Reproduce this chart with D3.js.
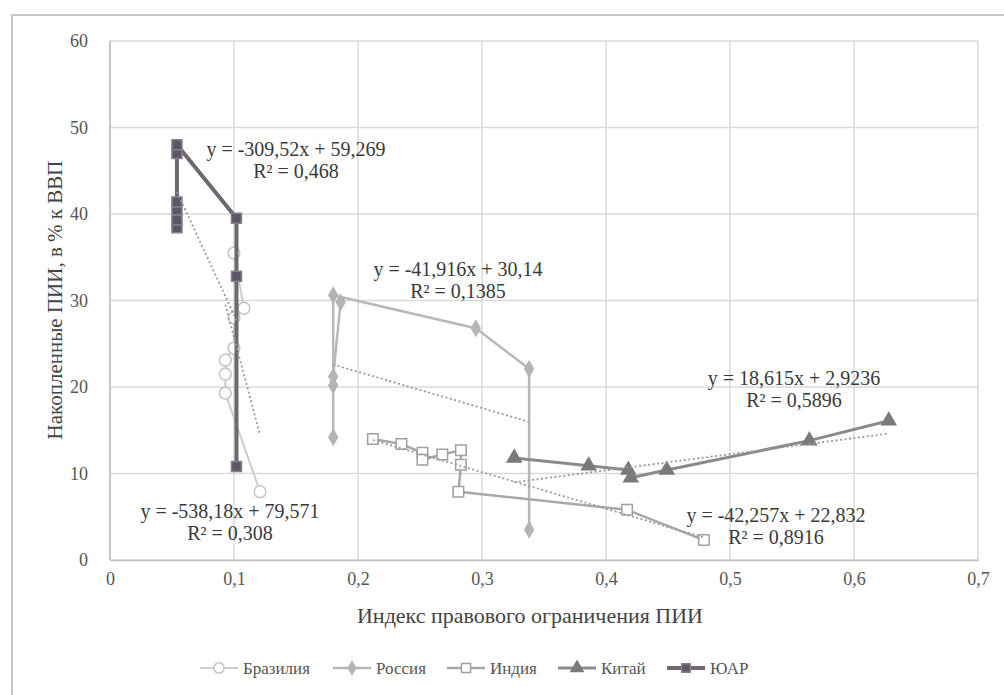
<!DOCTYPE html>
<html><head><meta charset="utf-8">
<script src="https://cdn.jsdelivr.net/npm/d3@7"></script>
<style>body{margin:0;background:#fff}svg{display:block}</style>
</head><body><svg id="c" width="1004" height="695"></svg>
<script>
// ---- data ----
const seriesNames = ["Бразилия","Россия","Индия","Китай","ЮАР"];
const brazilX = [0.100,0.108,0.100,0.100,0.093,0.093,0.093,0.121];
const brazilY = [35.5,29.1,28.0,24.5,23.1,21.5,19.3,7.9];
const russiaX = [0.186,0.180,0.180,0.180,0.180,0.295,0.338,0.338];
const russiaY = [29.8,21.2,20.2,14.2,30.6,26.8,22.1,3.5];
const indiaX = [0.212,0.235,0.252,0.252,0.268,0.283,0.283,0.281,0.417,0.479];
const indiaY = [14.0,13.4,12.4,11.6,12.2,12.7,11.0,7.9,5.8,2.3];
const chinaX = [0.326,0.386,0.418,0.420,0.449,0.564,0.628];
const chinaY = [11.8,10.9,10.4,9.5,10.4,13.8,16.1];
const zafX = [0.054,0.054,0.054,0.054,0.054,0.054,0.102,0.102,0.102];
const zafY = [38.4,39.3,40.5,41.4,47.0,48.0,39.5,32.8,10.8];
const trendSlope = [-538.18,-41.916,-42.257,18.615,-309.52];
const trendIntercept = [79.571,30.14,22.832,2.9236,59.269];
const trendEq = ["y = -538,18x + 79,571","y = -41,916x + 30,14","y = -42,257x + 22,832","y = 18,615x + 2,9236","y = -309,52x + 59,269"];
const trendR2 = ["R² = 0,308","R² = 0,1385","R² = 0,8916","R² = 0,5896","R² = 0,468"];
const xTicks = [0,0.1,0.2,0.3,0.4,0.5,0.6,0.7];
const yTicks = [0,10,20,30,40,50,60];
const xTitle = "Индекс правового ограничения ПИИ";
const yTitle = "Накопленные ПИИ, в % к ВВП";

// ---- styles / layout ----
const styles = [
  {line:"#cdcdcd", w:2,   marker:"circle",  fill:"#fff",    stroke:"#c4c4c4", size:110},
  {line:"#b8b8b8", w:2.5, marker:"diamond", fill:"#b4b4b4", stroke:"#b4b4b4", size:65},
  {line:"#a8a8a8", w:2.5, marker:"square",  fill:"#fff",    stroke:"#a0a0a0", size:110},
  {line:"#8a8a8a", w:3,   marker:"triangle",fill:"#7a7a7a", stroke:"#7a7a7a", size:85},
  {line:"#6e6873", w:4,   marker:"square",  fill:"#5e5668", stroke:"#85808a", size:100}
];
const labelPos = [[230,518],[458,276],[776,522],[794,385],[296,156]];
const legendX = [200,333,447,558,667];

const svg = d3.select("#c");
const font = "Liberation Serif, DejaVu Serif, Times New Roman, serif";
const x = d3.scaleLinear().domain([0,0.7]).range([110,978]);
const y = d3.scaleLinear().domain([0,60]).range([560,41]);

// outer border
svg.append("rect").attr("x",12).attr("y",15).attr("width",1000).attr("height",700)
  .attr("fill","none").attr("stroke","#c9c9c9").attr("stroke-width",2);

// grid
svg.append("g").selectAll("line").data(yTicks).join("line")
  .attr("x1",x(0)).attr("x2",x(0.7)).attr("y1",d=>y(d)).attr("y2",d=>y(d))
  .attr("stroke","#dadada").attr("stroke-width",1.5);
svg.append("g").selectAll("line").data(xTicks).join("line")
  .attr("y1",y(0)).attr("y2",y(60)).attr("x1",d=>x(d)).attr("x2",d=>x(d))
  .attr("stroke","#dadada").attr("stroke-width",1.5);

// axes
const xa = svg.append("g").attr("transform",`translate(0,${y(0)})`)
  .call(d3.axisBottom(x).tickValues(xTicks).tickSize(0).tickPadding(12)
    .tickFormat(d=>d===0?"0":String(d).replace(".",",")));
const ya = svg.append("g").attr("transform",`translate(${x(0)},0)`)
  .call(d3.axisLeft(y).tickValues(yTicks).tickSize(0).tickPadding(22));
[xa,ya].forEach(a=>{
  a.select(".domain").attr("stroke","#bdbdbd").attr("stroke-width",1.5);
  a.selectAll("text").attr("font-family",font).attr("font-size",18).attr("fill","#555");
});
ya.select(".domain").remove();
svg.append("line").attr("x1",x(0)).attr("x2",x(0)).attr("y1",y(0)).attr("y2",y(60))
  .attr("stroke","#bdbdbd").attr("stroke-width",1.5);

// titles
svg.append("text").attr("x",530).attr("y",623).attr("text-anchor","middle")
  .attr("font-family",font).attr("font-size",22).attr("fill","#444").text(xTitle);
svg.append("text").attr("transform","translate(62,300) rotate(-90)").attr("text-anchor","middle")
  .attr("font-family",font).attr("font-size",21).attr("fill","#444").text(yTitle);

const allX = [brazilX,russiaX,indiaX,chinaX,zafX];
const allY = [brazilY,russiaY,indiaY,chinaY,zafY];
const symType = {circle:d3.symbolCircle,diamond:d3.symbolDiamond,square:d3.symbolSquare,triangle:d3.symbolTriangle};

function drawMarker(g, st, cx, cy, scale=1){
  g.append("path").attr("d",d3.symbol().type(symType[st.marker]).size(st.size*scale)())
    .attr("transform",`translate(${cx},${cy})`)
    .attr("fill",st.fill).attr("stroke",st.stroke).attr("stroke-width",1.5);
}

// series
allX.forEach((xs,i)=>{
  const st = styles[i];
  const pts = xs.map((v,j)=>[v,allY[i][j]]);
  const g = svg.append("g");
  g.append("path").datum(pts)
    .attr("d",d3.line().x(d=>x(d[0])).y(d=>y(d[1])))
    .attr("fill","none").attr("stroke",st.line).attr("stroke-width",st.w).attr("stroke-linejoin","round");
  pts.forEach(p=>drawMarker(g,st,x(p[0]),y(p[1])));
});

// trendlines
allX.forEach((xs,i)=>{
  const [x0,x1] = d3.extent(xs);
  const f = v=>trendSlope[i]*v+trendIntercept[i];
  svg.append("line").attr("x1",x(x0)).attr("y1",y(f(x0))).attr("x2",x(x1)).attr("y2",y(f(x1)))
    .attr("stroke","#9a9a9a").attr("stroke-width",1.8).attr("stroke-dasharray","2,2.5");
});

// equation labels
labelPos.forEach((p,i)=>{
  const t = svg.append("text").attr("text-anchor","middle").attr("font-family",font)
    .attr("font-size",20).attr("fill","#3a3a3a");
  t.append("tspan").attr("x",p[0]).attr("y",p[1]).text(trendEq[i]);
  t.append("tspan").attr("x",p[0]).attr("y",p[1]+22).text(trendR2[i]);
});

// legend
seriesNames.forEach((n,i)=>{
  const st = styles[i];
  const lx = legendX[i], ly = 668;
  const g = svg.append("g");
  g.append("line").attr("x1",lx).attr("x2",lx+38).attr("y1",ly).attr("y2",ly)
    .attr("stroke",st.line).attr("stroke-width",st.w);
  drawMarker(g,st,lx+19,ly,0.75);
  g.append("text").attr("x",lx+43).attr("y",ly+6).attr("font-family",font)
    .attr("font-size",17).attr("fill","#555").text(n);
});
</script></body></html>
